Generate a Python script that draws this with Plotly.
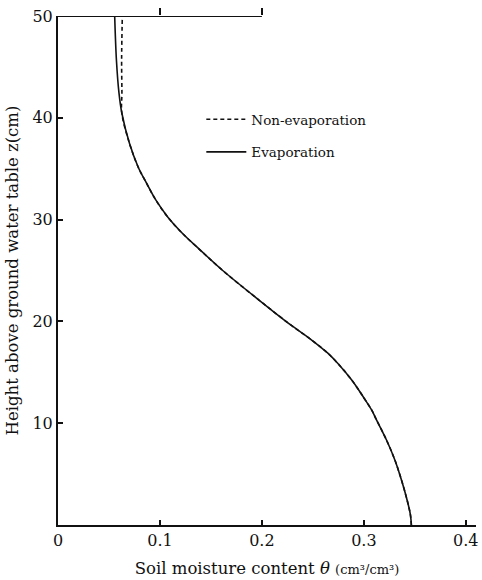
import plotly.graph_objects as go

# Height above the ground water table (cm)
z = [0, 0.98, 2.46, 4.42, 6.39, 8.35, 10.31, 11.3, 12.57, 14.24, 15.91, 16.9,
     18.17, 19.65, 22.1, 25.05, 27.01, 28.68, 30.26, 31.93, 33.6, 35.17, 37.52,
     40.47, 42.44, 45.68, 50]

# Soil moisture content profiles (cm3/cm3)
theta_evap = [0.3466, 0.3457, 0.3424, 0.3369, 0.3304, 0.3222, 0.3125, 0.3076,
              0.2995, 0.2881, 0.2741, 0.2644, 0.2488, 0.2283, 0.1971, 0.1610,
              0.1395, 0.1217, 0.1076, 0.0959, 0.0867, 0.0786, 0.0700, 0.0626,
              0.0598, 0.0573, 0.0556]
theta_nonevap = [0.3466, 0.3457, 0.3424, 0.3369, 0.3304, 0.3222, 0.3125, 0.3076,
                 0.2995, 0.2881, 0.2741, 0.2644, 0.2488, 0.2283, 0.1971, 0.1610,
                 0.1395, 0.1217, 0.1076, 0.0959, 0.0867, 0.0786, 0.0700, 0.0626,
                 0.0627, 0.0624, 0.0631]

x_ticks = [0, 0.1, 0.2, 0.3, 0.4]
x_ticktext = ["0", "0.1", "0.2", "0.3", "0.4"]
y_ticks = [10, 20, 30, 40, 50]
top_ticks = [0.1, 0.2]

FONT = "DejaVu Serif"
INK = "#111111"

fig = go.Figure()

fig.add_trace(go.Scatter(
    x=theta_nonevap, y=z, mode="lines", name="Non-evaporation",
    line=dict(color=INK, width=1.6, dash="4px,3px", shape="spline", smoothing=1.0),
    legendgroup="a", cliponaxis=False,
))
fig.add_trace(go.Scatter(
    x=theta_evap, y=z, mode="lines", name="Evaporation",
    line=dict(color=INK, width=1.6, shape="spline", smoothing=1.0),
    legendgroup="b", cliponaxis=False,
))
# short top boundary axis at z = 50 (spans 0 to 0.2)
fig.add_trace(go.Scatter(
    x=[0, 0.2], y=[50, 50], xaxis="x2", yaxis="y", mode="lines",
    line=dict(color=INK, width=2), showlegend=False, hoverinfo="skip",
    cliponaxis=False,
))

x_max = 0.41
fig.update_layout(
    width=482, height=580,
    margin=dict(l=58, r=4, t=16, b=55),
    paper_bgcolor="white", plot_bgcolor="rgba(0,0,0,0)",
    font=dict(family=FONT, color=INK, size=16),
    showlegend=True,
    legend=dict(
        x=(202 - 58) / 420, y=1 - (104 - 16) / 509, xanchor="left", yanchor="top",
        bgcolor="rgba(0,0,0,0)", font=dict(size=13.5, family=FONT),
        tracegroupgap=12, itemwidth=40,
    ),
    xaxis=dict(
        range=[0, x_max], domain=[0, 1],
        showline=True, linecolor=INK, linewidth=1.6,
        ticks="inside", ticklen=5, tickwidth=1.5, tickcolor=INK,
        tickvals=x_ticks, ticktext=x_ticktext,
        showgrid=False, zeroline=False,
        tickfont=dict(size=16),
        title=dict(
            text="Soil moisture content <i>θ</i> <span style='font-size:13px'>(cm³/cm³)</span>",
            font=dict(size=16.5), standoff=13,
        ),
    ),
    xaxis2=dict(
        range=[0, 0.2], domain=[0, 0.2 / x_max], anchor="y", side="top",
        showline=False, ticks="outside", ticklen=7, tickwidth=1.5, tickcolor=INK,
        tickvals=top_ticks, showticklabels=False,
        showgrid=False, zeroline=False,
    ),
    yaxis=dict(
        range=[0, 50],
        showline=True, linecolor=INK, linewidth=2,
        ticks="inside", ticklen=5, tickwidth=1.5, tickcolor=INK,
        tickvals=y_ticks,
        showgrid=False, zeroline=False,
        tickfont=dict(size=16),
        title=dict(text="Height above ground water table z(cm)", font=dict(size=16.5), standoff=10),
    ),
)

fig.write_html("out.html")
